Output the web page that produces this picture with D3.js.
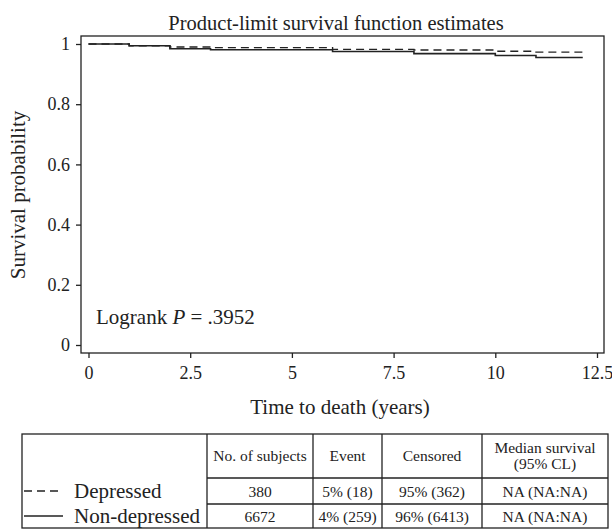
<!DOCTYPE html>
<html>
<head>
<meta charset="utf-8">
<script src="https://cdn.jsdelivr.net/npm/d3@7"></script>
<style>
  body { margin: 0; background: #fff; }
  svg { display: block; font-family: "Liberation Serif", "DejaVu Serif", serif; }
  text { fill: #222; }
</style>
</head>
<body>
<div class="chart"></div>
<script>
// step times (years) and product-limit estimates per group
var times = [0, 1, 2, 3, 6, 8, 10, 11, 12.15];
var nonDepressed = [1, 0.994, 0.984, 0.981, 0.975, 0.968, 0.962, 0.955, 0.955];
var depressed = [1, 0.994, 0.990, 0.988, 0.982, 0.980, 0.976, 0.973, 0.973];

var xTicks = [0, 2.5, 5, 7.5, 10, 12.5];
var yTicks = [0, 0.2, 0.4, 0.6, 0.8, 1];

var groups = ["Depressed", "Non-depressed"];
var tableHeader = ["No. of subjects", "Event", "Censored", "Median survival|(95% CL)"];
var tableRows = [
  ["380", "5% (18)", "95% (362)", "NA (NA:NA)"],
  ["6672", "4% (259)", "96% (6413)", "NA (NA:NA)"]
];

var width = 612, height = 529;
var ink = "#222";

var svg = d3.select(".chart").append("svg")
  .attr("width", width)
  .attr("height", height);

var x = d3.scaleLinear().domain([0, 12.5]).range([88.5, 597]);
var y = d3.scaleLinear().domain([0, 1]).range([345, 44]);

var frame = {left: 81, right: 604, top: 36, bottom: 353};

// title
svg.append("text")
  .attr("x", 336).attr("y", 30)
  .attr("text-anchor", "middle")
  .style("font-size", "20.5px")
  .text("Product-limit survival function estimates");

// plot frame
svg.append("rect")
  .attr("x", frame.left).attr("y", frame.top)
  .attr("width", frame.right - frame.left)
  .attr("height", frame.bottom - frame.top)
  .attr("fill", "none").attr("stroke", ink).attr("stroke-width", 1.3);

// axes
var xAxis = d3.axisBottom(x).tickValues(xTicks).tickSize(5).tickPadding(8)
  .tickFormat(d3.format("~g"));
var yAxis = d3.axisLeft(y).tickValues(yTicks).tickSize(5).tickPadding(6)
  .tickFormat(d3.format("~g"));

var gx = svg.append("g").attr("transform", "translate(0," + frame.bottom + ")").call(xAxis);
var gy = svg.append("g").attr("transform", "translate(" + frame.left + ",0)").call(yAxis);

[gx, gy].forEach(function(g) {
  g.select(".domain").remove();
  g.selectAll(".tick line").attr("stroke", ink).attr("stroke-width", 1.3);
  g.selectAll(".tick text")
    .attr("fill", ink)
    .style("font-family", "Liberation Serif, serif")
    .style("font-size", "18px");
});

// axis titles
svg.append("text")
  .attr("x", 340).attr("y", 414)
  .attr("text-anchor", "middle")
  .style("font-size", "21px")
  .text("Time to death (years)");

svg.append("text")
  .attr("transform", "translate(25,195) rotate(-90)")
  .attr("text-anchor", "middle")
  .style("font-size", "21px")
  .text("Survival probability");

// logrank annotation
var lr = svg.append("text")
  .attr("x", 96).attr("y", 324)
  .style("font-size", "21px");
lr.append("tspan").text("Logrank ");
lr.append("tspan").style("font-style", "italic").text("P");
lr.append("tspan").text(" = .3952");

// survival curves
var line = d3.line()
  .x(function(d) { return x(d[0]); })
  .y(function(d) { return y(d[1]); })
  .curve(d3.curveStepAfter);

svg.append("path")
  .datum(d3.zip(times, nonDepressed))
  .attr("d", line)
  .attr("fill", "none").attr("stroke", ink).attr("stroke-width", 1.6);

svg.append("path")
  .datum(d3.zip(times, depressed))
  .attr("d", line)
  .attr("fill", "none").attr("stroke", ink).attr("stroke-width", 1.4)
  .attr("stroke-dasharray", "8,5");

// summary table
var cols = [22, 207, 313, 382, 482, 608];
var rows = [434, 478, 504, 528];
var t = svg.append("g");

t.append("rect")
  .attr("x", cols[0]).attr("y", rows[0])
  .attr("width", cols[5] - cols[0]).attr("height", rows[3] - rows[0])
  .attr("fill", "none").attr("stroke", ink).attr("stroke-width", 1.3);

cols.slice(1, 5).forEach(function(cx) {
  t.append("line")
    .attr("x1", cx).attr("x2", cx).attr("y1", rows[0]).attr("y2", rows[3])
    .attr("stroke", ink).attr("stroke-width", 1.3);
});
rows.slice(1, 3).forEach(function(ry) {
  t.append("line")
    .attr("x1", cols[1]).attr("x2", cols[5]).attr("y1", ry).attr("y2", ry)
    .attr("stroke", ink).attr("stroke-width", 1.3);
});

tableHeader.forEach(function(h, i) {
  var cx = (cols[i + 1] + cols[i + 2]) / 2;
  var parts = h.split("|");
  parts.forEach(function(p, j) {
    t.append("text")
      .attr("x", cx)
      .attr("y", (rows[0] + rows[1]) / 2 + 5 + (j - (parts.length - 1) / 2) * 16)
      .attr("text-anchor", "middle")
      .style("font-size", "15.5px")
      .text(p);
  });
});

tableRows.forEach(function(r, ri) {
  var cy = (rows[ri + 1] + rows[ri + 2]) / 2 + 5.5;
  r.forEach(function(v, i) {
    t.append("text")
      .attr("x", (cols[i + 1] + cols[i + 2]) / 2)
      .attr("y", cy)
      .attr("text-anchor", "middle")
      .style("font-size", "15.5px")
      .text(v);
  });
  // legend entry
  var ly = (rows[ri + 1] + rows[ri + 2]) / 2;
  t.append("line")
    .attr("x1", cols[0] + 2).attr("x2", 63).attr("y1", ly).attr("y2", ly)
    .attr("stroke", ink).attr("stroke-width", 1.4)
    .attr("stroke-dasharray", ri === 0 ? "8,5" : null);
  t.append("text")
    .attr("x", 74).attr("y", ly + 7)
    .style("font-size", "21px")
    .text(groups[ri]);
});
</script>
</body>
</html>
